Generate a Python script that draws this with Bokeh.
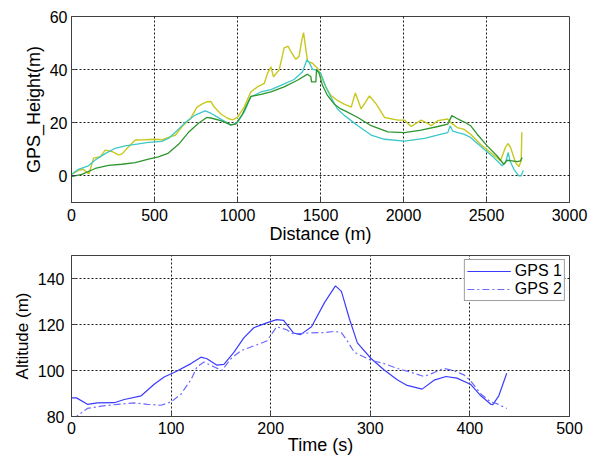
from bokeh.plotting import figure
from bokeh.layouts import column
from bokeh.models import Range1d, FixedTicker, Legend, LegendItem
from bokeh.embed import file_html
from bokeh.resources import INLINE

# ---------------- data: top panel (distance vs GPS height) ----------------
yellow_d = [0, 42, 72, 92, 106, 133, 173, 203, 243, 283, 303, 343, 384, 444, 504, 544, 584, 625, 675, 715,
            755, 785, 815, 840, 860, 900, 940, 970, 1000, 1040, 1080, 1120, 1161, 1181, 1201, 1217, 1251, 1281,
            1305, 1321, 1351, 1371, 1388, 1398, 1408, 1422, 1452, 1482, 1502, 1532, 1562, 1602, 1640, 1685,
            1710, 1745, 1795, 1835, 1886, 1966, 2006, 2046, 2106, 2137, 2167, 2207, 2267, 2283, 2297, 2323,
            2363, 2404, 2464, 2524, 2584, 2614, 2629, 2645, 2675, 2695, 2709, 2713]
yellow_h = [0.6, 2.1, 2.5, 1.3, 0.9, 6.7, 7.2, 9.7, 9.2, 7.9, 8.2, 10.9, 13.5, 13.6, 13.8, 13.6, 14.5, 15.3, 19.2, 21.4,
            25.8, 27.0, 27.9, 28.0, 25.9, 23.3, 21.7, 21.1, 22.0, 25.9, 31.6, 33.5, 34.8, 38.6, 41.1, 37.3, 39.9, 48.2,
            48.8, 46.9, 43.9, 45.0, 51.3, 53.9, 49.4, 43.1, 42.4, 40.5, 38.0, 33.5, 30.3, 28.4, 27.1, 25.9,
            31.2, 25.2, 30.1, 27.1, 22.0, 21.0, 21.0, 18.6, 21.0, 20.1, 18.9, 20.8, 21.4, 20.1, 19.5, 18.2,
            17.6, 15.7, 11.9, 8.8, 5.7, 10.7, 12.2, 10.7, 5.0, 3.5, 5.7, 16.4]

cyan_d = [0, 42, 102, 143, 203, 263, 323, 384, 464, 544, 584, 625, 685, 745, 805, 839, 900, 960, 1000, 1040,
          1080, 1141, 1201, 1261, 1341, 1392, 1418, 1432, 1452, 1472, 1502, 1532, 1562, 1602, 1645, 1725, 1805,
          1886, 2006, 2127, 2227, 2267, 2281, 2297, 2327, 2363, 2404, 2484, 2544, 2594, 2614, 2631, 2641, 2665,
          2695, 2709, 2721]
cyan_h = [0.6, 2.5, 3.8, 6.0, 8.4, 10.4, 11.3, 11.9, 12.6, 13.0, 14.1, 16.4, 20.1, 22.9, 24.5, 23.6, 21.4, 19.1, 20.1, 24.0,
          29.7, 31.6, 32.5, 34.1, 36.3, 39.2, 43.7, 42.7, 40.1, 39.9, 38.6, 33.5, 29.7, 25.2, 22.7, 18.9, 15.4,
          13.8, 13.1, 14.1, 15.7, 16.3, 18.9, 16.9, 16.3, 15.7, 14.5, 10.1, 6.9, 3.8, 5.0, 8.8, 5.7, 2.5,
          0.0, 0.0, 2.1]

green_d = [0, 62, 143, 223, 303, 384, 464, 524, 584, 645, 705, 765, 815, 839, 900, 960, 990, 1030, 1080, 1141,
           1201, 1281, 1361, 1422, 1442, 1446, 1472, 1476, 1492, 1512, 1542, 1582, 1622, 1645, 1725, 1805, 1906,
           2006, 2106, 2207, 2267, 2291, 2317, 2347, 2373, 2404, 2444, 2504, 2564, 2604, 2624, 2655, 2685, 2705, 2715]
green_h = [-0.3, 0.6, 2.8, 4.0, 4.4, 5.0, 6.3, 7.2, 8.6, 11.9, 16.4, 19.8, 22.0, 21.8, 20.8, 19.2, 19.5, 23.3, 29.9, 30.7,
           31.6, 33.5, 36.0, 38.3, 37.3, 35.4, 35.4, 39.9, 38.6, 34.1, 30.3, 27.1, 25.2, 24.6, 22.0, 18.9, 16.6,
           16.3, 17.2, 18.6, 19.5, 22.7, 21.8, 20.8, 20.1, 18.9, 15.7, 11.3, 7.5, 4.4, 5.9, 5.7, 5.4, 5.7, 6.9]

top_xticks = [0, 500, 1000, 1500, 2000, 2500, 3000]
top_yticks = [0, 20, 40, 60]

# ---------------- data: bottom panel (time vs altitude) ----------------
gps1_t = [0, 5, 16, 26, 43, 53, 70, 83, 93, 103, 120, 130, 136, 146, 153, 163, 173, 183, 196, 206, 213, 223, 230,
          241, 254, 265, 271, 279, 287, 301, 314, 327, 337, 352, 364, 376, 387, 401, 411, 421, 423, 429, 437]
gps1_a = [88.1, 88.1, 85.3, 85.9, 86.0, 87.4, 89.0, 94.0, 97.2, 99.1, 103.0, 105.8, 105.1, 102.3, 102.7, 107.9, 114.2,
          118.6, 120.7, 122.1, 121.8, 116.3, 115.6, 119.0, 129.5, 136.8, 134.4, 122.5, 112.0, 105.1, 100.2, 96.0,
          93.5, 91.9, 95.8, 97.4, 96.7, 93.9, 89.0, 85.3, 85.2, 89.0, 98.8]

gps2_t = [0, 5, 16, 30, 46, 63, 76, 90, 100, 110, 120, 126, 133, 143, 151, 160, 170, 183, 196, 206, 216, 223, 237,
          254, 264, 271, 277, 284, 301, 314, 327, 341, 354, 364, 374, 384, 394, 401, 411, 421, 427, 437]
gps2_a = [80.0, 80.0, 83.5, 84.5, 85.3, 85.9, 85.3, 84.9, 86.3, 89.8, 96.0, 101.6, 103.7, 101.6, 100.0, 105.1, 108.6,
          110.7, 112.8, 119.0, 117.7, 115.8, 116.3, 116.5, 117.0, 116.5, 112.8, 107.9, 104.4, 103.0, 100.9, 99.2,
          97.4, 99.1, 100.9, 99.9, 98.1, 95.3, 89.8, 86.3, 85.6, 83.5]

bot_xticks = [0, 100, 200, 300, 400, 500]
bot_yticks = [80, 100, 120, 140]

FONT = "Liberation Sans"


def style(p, xticks, yticks, xlabel, ylabel, ylabel_size):
    p.xaxis.ticker = FixedTicker(ticks=xticks)
    p.yaxis.ticker = FixedTicker(ticks=yticks)
    p.xaxis.axis_label = xlabel
    p.yaxis.axis_label = ylabel
    for ax in (p.xaxis[0], p.yaxis[0]):
        ax.major_label_text_font = FONT
        ax.major_label_text_font_size = "16px"
        ax.major_label_text_color = "black"
        ax.axis_label_text_font = FONT
        ax.axis_label_text_font_style = "normal"
        ax.axis_label_text_color = "black"
        ax.major_tick_in = 5
        ax.major_tick_out = 0
        ax.minor_tick_line_color = None
        ax.axis_line_color = "#404040"
        ax.major_tick_line_color = "#404040"
    p.xaxis.axis_label_text_font_size = "18px"
    p.yaxis.axis_label_text_font_size = ylabel_size
    for g in (p.xgrid[0], p.ygrid[0]):
        g.grid_line_color = "black"
        g.grid_line_dash = "2 2"
        g.grid_line_width = 1
        g.grid_line_alpha = 0.9
    p.outline_line_color = "#404040"
    p.outline_line_alpha = 1
    p.background_fill_color = "white"
    p.border_fill_color = "white"


p1 = figure(width=596, height=248, output_backend="svg", toolbar_location=None,
            x_range=Range1d(0, 3000), y_range=Range1d(-10, 60),
            min_border_left=71, min_border_right=27, min_border_top=16, min_border_bottom=46)
p1.line(yellow_d, yellow_h, line_color="#c8c81e", line_width=1.4)
p1.line(cyan_d, cyan_h, line_color="#3cc8c8", line_width=1.3)
p1.line(green_d, green_h, line_color="#2e962e", line_width=1.3)
style(p1, top_xticks, top_yticks, "Distance (m)", "GPS_Height(m)", "18px")
p1.xaxis.major_label_standoff = 6
p1.xaxis.axis_label_standoff = 0
p1.yaxis.major_label_standoff = 4
p1.yaxis.axis_label_standoff = 3

p2 = figure(width=596, height=209, output_backend="svg", toolbar_location=None,
            x_range=Range1d(0, 500), y_range=Range1d(80, 150),
            min_border_left=71, min_border_right=27, min_border_top=7, min_border_bottom=35)
r1 = p2.line(gps1_t, gps1_a, line_color="#3c3cff", line_width=1.2)
r2 = p2.line(gps2_t, gps2_a, line_color="#6a6aff", line_width=1.2, line_dash="7 3 2 3")
style(p2, bot_xticks, bot_yticks, "Time (s)", "Altitude (m)", "17px")
p2.xaxis.major_label_standoff = 5
p2.xaxis.axis_label_standoff = -2
p2.yaxis.major_label_standoff = 7
p2.yaxis.axis_label_standoff = 3

legend = Legend(items=[LegendItem(label="GPS 1", renderers=[r1]),
                       LegendItem(label="GPS 2", renderers=[r2])],
                location="top_right")
legend.label_text_font = FONT
legend.label_text_font_size = "16px"
legend.label_text_color = "black"
legend.glyph_width = 44
legend.glyph_height = 12
legend.label_height = 12
legend.label_standoff = 4
legend.spacing = -2
legend.padding = 2
legend.margin = 4
legend.border_line_color = "#404040"
legend.border_line_width = 1
legend.background_fill_alpha = 1
p2.add_layout(legend)

layout = column(p1, p2, spacing=0)

open("out.html", "w").write(file_html(layout, INLINE))
